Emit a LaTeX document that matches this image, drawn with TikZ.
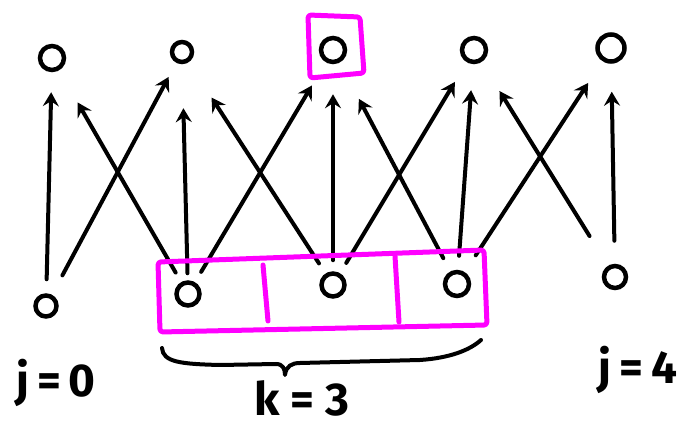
\documentclass[tikz,border=0pt]{standalone}
\usepackage{fontspec}
\setmainfont{Fira Sans}
\usetikzlibrary{arrows.meta}
\definecolor{mag}{RGB}{255,0,255}
\begin{document}
\begin{tikzpicture}[x=1pt,y=-1pt,
  dot/.style={circle,draw,line width=4.5pt,minimum size=20pt,inner sep=0pt},
  arr/.style={line width=4pt,-{Stealth[length=14pt,width=16pt,inset=5pt]},line cap=round},
  magline/.style={draw=mag,line width=5pt,line cap=round,line join=round,rounded corners=3pt},
  brace/.style={line width=4pt,line cap=round,line join=round},
  lab/.style={font=\fontsize{46}{46}\selectfont\bfseries,inner sep=0pt}]
\useasboundingbox (0,0) rectangle (689,427);
\fill[white] (0,0) rectangle (689,427);
% top row
\node[dot,minimum size=24pt] (t0) at (52,58) {};
\node[dot,minimum size=20pt] (t1) at (182,52) {};
\node[dot,minimum size=24pt] (t2) at (333,50) {};
\node[dot,minimum size=24pt] (t3) at (474,50) {};
\node[dot,minimum size=27pt] (t4) at (611,48) {};
% bottom row
\node[dot,minimum size=21pt] (b0) at (46,306) {};
\node[dot,minimum size=23pt] (b1) at (188,294) {};
\node[dot,minimum size=23pt] (b2) at (333,285) {};
\node[dot,minimum size=24pt] (b3) at (457,284) {};
\node[dot,minimum size=22pt] (b4) at (615,277) {};
% arrows
\foreach \b/\t/\s/\e in {b0/t0/14/20, b0/t1/22/16, b1/t0/11/37, b1/t1/7/44, b1/t2/12/27,
  b2/t1/12/42, b2/t2/11/30, b2/t3/12/23, b3/t2/15/41, b3/t3/14/26, b3/t4/20/26,
  b4/t3/35/34, b4/t4/23/28}
  \draw[arr,shorten <=\s pt,shorten >=\e pt] (\b) -- (\t);
% magenta boxes
\draw[magline] (308,15) -- (360,17) -- (364,73) -- (310,78) -- cycle;
\draw[magline] (158,262) -- (484,250) -- (487,325) -- (160,332) -- cycle;
\draw[magline] (263,265) -- (268,321);
\draw[magline] (395,256) -- (399,322);
% brace
\draw[brace] (162,348) .. controls (163,362) and (180,364) .. (220,365) -- (276,364)
  .. controls (283,364) and (285,369) .. (285,375)
  .. controls (286,366) and (292,363) .. (300,363) -- (420,360)
  .. controls (450,358) and (470,350) .. (481,340);
% labels
\node[lab] (j0) at (56,383) {j\,=\,0};
\node[lab] (k3) at (302,398) {k = 3};
\node[lab] (j4) at (638,370) {j\,=\,4};
\end{tikzpicture}
\end{document}
